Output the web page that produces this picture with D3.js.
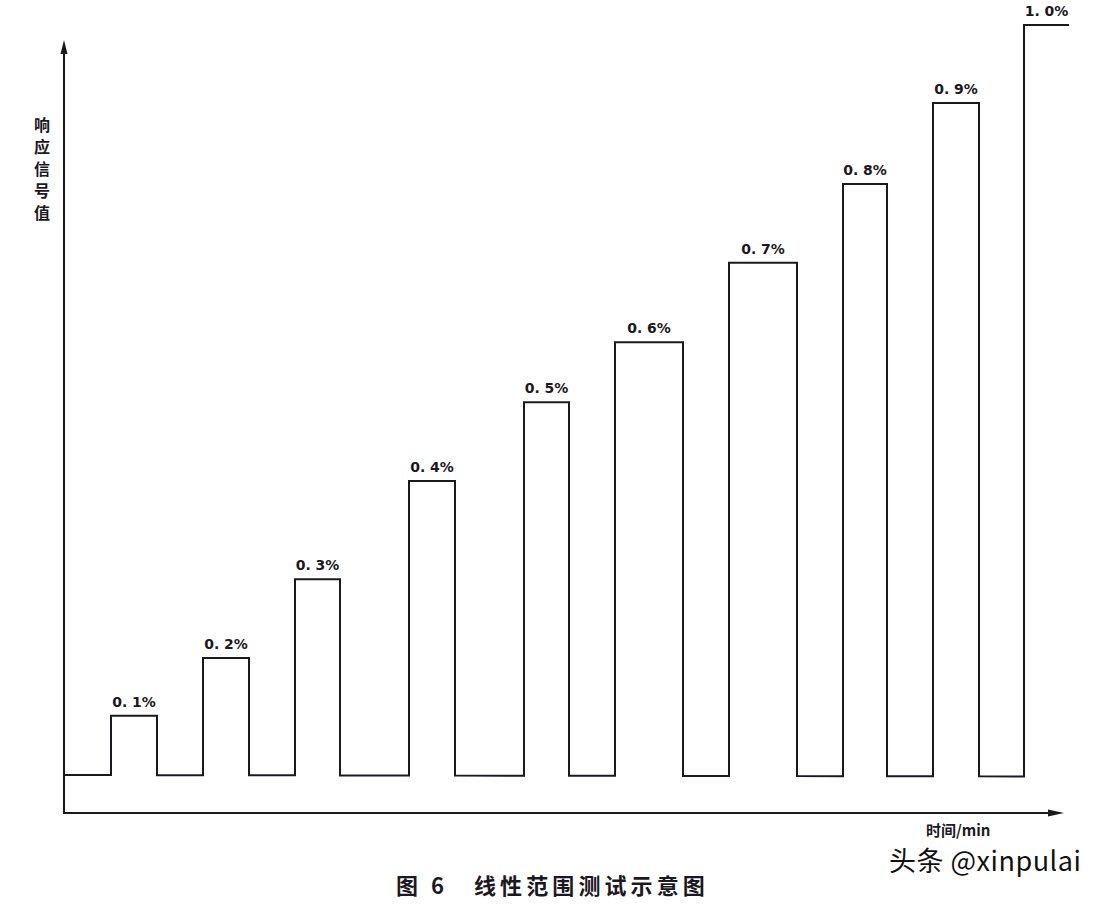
<!DOCTYPE html>
<html>
<head>
<meta charset="utf-8">
<script src="https://cdn.jsdelivr.net/npm/d3@7"></script>
<style>
  html, body { margin: 0; padding: 0; background: #ffffff; }
  svg { display: block; }
</style>
</head>
<body>
<svg id="chart" width="1116" height="906"></svg>
<script>
// ---- data ----
const labels = ["0. 1%", "0. 2%", "0. 3%", "0. 4%", "0. 5%", "0. 6%", "0. 7%", "0. 8%", "0. 9%", "1. 0%"];
// pulse start / end times (min, arbitrary)
const startTimes = [4.7, 13.9, 23.1, 34.5, 46.0, 55.1, 66.5, 77.9, 86.9, 96.0];
const endTimes   = [9.3, 18.5, 27.6, 39.1, 50.5, 61.9, 73.3, 82.3, 91.5, 100.5];
// response signal values (relative)
const signalValues = [0.079, 0.156, 0.261, 0.392, 0.497, 0.577, 0.683, 0.788, 0.896, 1.0];
const yAxisLabel = ["响", "应", "信", "号", "值"];
const xAxisLabel = "时间/min";
const titleNum = "图 6";
const titleText = "线性范围测试示意图";
const watermark = "头条 @xinpulai";

// ---- layout ----
const svg = d3.select("#chart");
const ink = "#1c1822";
const x = d3.scaleLinear().domain([0, 100]).range([64, 1064]);
const y = d3.scaleLinear().domain([0, 1]).range([775, 25]);

// axes
const axisG = svg.append("g");
axisG.append("line").attr("x1", x(0)).attr("x2", x(0)).attr("y1", 48).attr("y2", 814)
  .attr("stroke", ink).attr("stroke-width", 2);
axisG.append("line").attr("x1", x(0) - 1).attr("x2", 1056).attr("y1", 813).attr("y2", 813)
  .attr("stroke", ink).attr("stroke-width", 2);
// arrow heads
axisG.append("path").attr("d", `M${x(0)},40 L${x(0)-3.5},54 L${x(0)+3.5},54 Z`).attr("fill", ink);
axisG.append("path").attr("d", `M1064,813 L1048,809.5 L1048,816.5 Z`).attr("fill", ink);

// pulse signal path
const pts = [[0, 0]];
startTimes.forEach((s, i) => {
  pts.push([s, 0], [s, signalValues[i]], [endTimes[i], signalValues[i]]);
  if (i < startTimes.length - 1) pts.push([endTimes[i], 0]);
});
const line = d3.line().x(d => x(d[0])).y(d => y(d[1]) + (d[1] === 0 ? (d[0] / 100) * 1.5 : 0));
svg.append("path").attr("d", line(pts)).attr("fill", "none")
  .attr("stroke", ink).attr("stroke-width", 2).attr("stroke-linejoin", "miter");

// pulse labels
svg.append("g").selectAll("text").data(labels).join("text")
  .attr("x", (d, i) => x((startTimes[i] + endTimes[i]) / 2))
  .attr("y", (d, i) => y(signalValues[i]) - 9)
  .attr("text-anchor", "middle")
  .attr("font-family", "'DejaVu Sans', 'Noto Sans', sans-serif")
  .attr("font-weight", "bold")
  .attr("font-size", 14)
  .attr("fill", ink)
  .text(d => d);

// y axis label (vertical)
svg.append("g").selectAll("text").data(yAxisLabel).join("text")
  .attr("x", 42)
  .attr("y", (d, i) => 131 + i * 22)
  .attr("text-anchor", "middle")
  .attr("font-family", "'Noto Sans CJK SC', sans-serif")
  .attr("font-weight", "bold")
  .attr("font-size", 16)
  .attr("fill", ink)
  .text(d => d);

// x axis label
svg.append("text").attr("x", 926).attr("y", 836)
  .attr("font-family", "'Noto Sans CJK SC', sans-serif")
  .attr("font-weight", "bold").attr("font-size", 15).attr("fill", ink)
  .text(xAxisLabel);

// title
svg.append("text").attr("x", 396).attr("y", 894)
  .attr("font-family", "'Noto Sans CJK SC', sans-serif")
  .attr("font-weight", "bold").attr("font-size", 22).attr("letter-spacing", 4)
  .attr("fill", ink).style("white-space", "pre")
  .text(titleNum);
svg.append("text").attr("x", 474).attr("y", 894)
  .attr("font-family", "'Noto Sans CJK SC', sans-serif")
  .attr("font-weight", "bold").attr("font-size", 22).attr("letter-spacing", 4.1)
  .attr("fill", ink)
  .text(titleText);

// watermark
svg.append("text").attr("x", 889).attr("y", 871)
  .attr("font-family", "'Noto Sans CJK SC', sans-serif")
  .attr("font-size", 27).attr("letter-spacing", 0.5).attr("fill", "#111")
  .text(watermark);
</script>
</body>
</html>
